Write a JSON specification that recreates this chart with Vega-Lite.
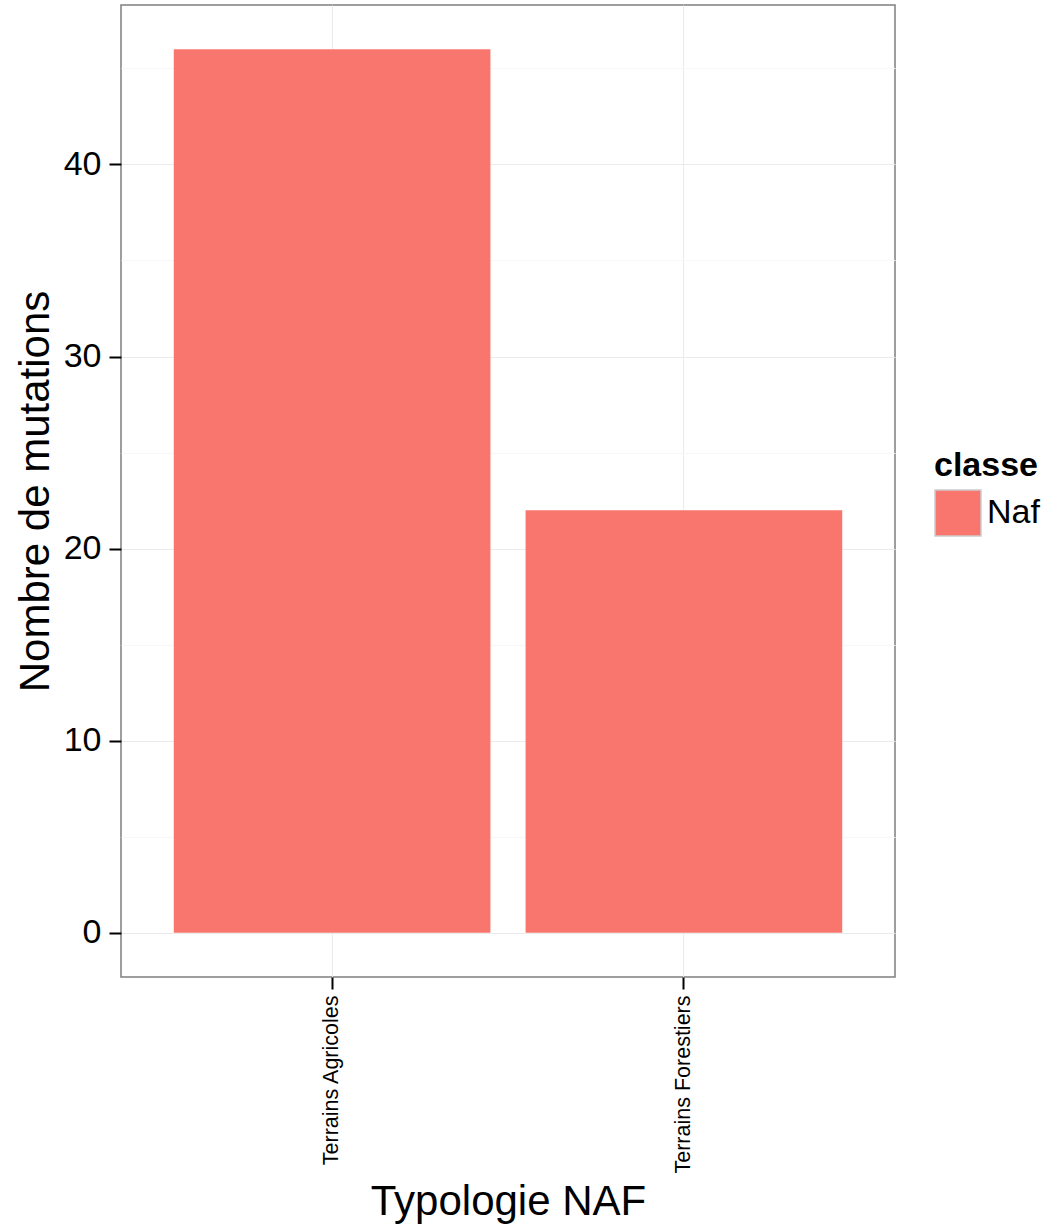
{
  "$schema": "https://vega.github.io/schema/vega-lite/v6.json",
  "width": 774,
  "height": 972,
  "autosize": "none",
  "padding": {"left": 121, "top": 5, "right": 167, "bottom": 247},
  "background": "white",
  "config": {
    "font": "Liberation Sans",
    "view": {"stroke": "#7f7f7f", "strokeWidth": 1.5}
  },
  "data": {
    "values": [
      {"typologie": "Terrains Agricoles", "n": 46, "classe": "Naf"},
      {"typologie": "Terrains Forestiers", "n": 22, "classe": "Naf"}
    ]
  },
  "mark": {"type": "bar"},
  "encoding": {
    "x": {
      "field": "typologie",
      "type": "nominal",
      "scale": {"paddingInner": 0.1, "paddingOuter": 0.15},
      "axis": {
        "title": "Typologie NAF",
        "titleFontSize": 42,
        "titleFontWeight": "normal",
        "titleColor": "black",
        "titleY": 237,
        "titleBaseline": "alphabetic",
        "labelAngle": -90,
        "labelFontSize": 21.5,
        "labelColor": "black",
        "labelPadding": 6,
        "labelLimit": 0,
        "bandPosition": 0.5,
        "grid": true,
        "gridColor": "#ebebeb",
        "gridWidth": 1,
        "domain": false,
        "ticks": true,
        "tickColor": "black",
        "tickSize": 12,
        "tickWidth": 2
      }
    },
    "y": {
      "field": "n",
      "type": "quantitative",
      "scale": {"domain": [-2.3, 48.3], "nice": false, "zero": false},
      "axis": {
        "title": "Nombre de mutations",
        "titleFontSize": 42,
        "titleFontWeight": "normal",
        "titleColor": "black",
        "titlePadding": 6,
        "values": [0, 5, 10, 15, 20, 25, 30, 35, 40, 45],
        "labelExpr": "datum.value % 10 === 0 ? datum.label : ''",
        "labelFontSize": 34,
        "labelColor": "black",
        "labelPadding": 8,
        "grid": true,
        "gridColor": {"condition": {"test": "datum.value % 10 === 0", "value": "#ebebeb"}, "value": "#f7f7f7"},
        "gridWidth": 1,
        "domain": false,
        "ticks": true,
        "tickColor": "black",
        "tickOpacity": {"condition": {"test": "datum.value % 10 === 0", "value": 1}, "value": 0},
        "tickSize": 12,
        "tickWidth": 2
      }
    },
    "color": {
      "field": "classe",
      "type": "nominal",
      "scale": {"range": ["#F8766D"]},
      "legend": {
        "orient": "none",
        "legendX": 813,
        "legendY": 444,
        "title": "classe",
        "titleFontSize": 34,
        "titleFontWeight": "bold",
        "titleColor": "black",
        "titlePadding": 6,
        "labelFontSize": 34,
        "labelColor": "black",
        "labelOffset": 5,
        "symbolType": "square",
        "symbolSize": 2116,
        "symbolStrokeColor": "#cccccc",
        "symbolStrokeWidth": 1.5,
        "symbolOpacity": 1
      }
    }
  }
}
